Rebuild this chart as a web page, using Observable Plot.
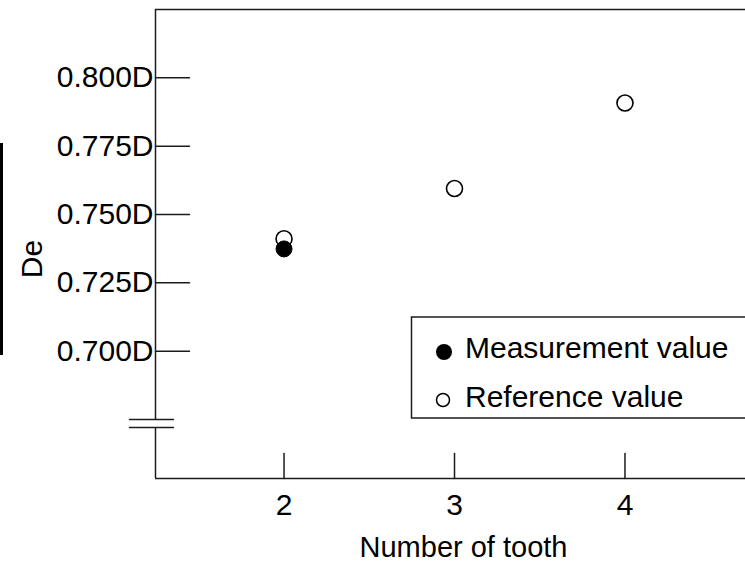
<!DOCTYPE html>
<html>
<head>
<meta charset="utf-8">
<script src="https://cdn.jsdelivr.net/npm/d3@7"></script>
<script src="https://cdn.jsdelivr.net/npm/@observablehq/plot@0.6"></script>
<style>
  html, body { margin: 0; padding: 0; background: #fff; overflow: hidden; }
  #wrap { position: relative; width: 745px; height: 564px; overflow: hidden; }
  #edge { position: absolute; left: 0; top: 143px; width: 3px; height: 212px; background: #000; }
</style>
</head>
<body>
<div id="wrap"><div id="edge"></div></div>
<script>
// Number of teeth on the x axis
const teeth = [2, 3, 4];
// Measured De (only the 2-tooth case was measured)
const measuredTeeth = [2];
const measuredDe = [0.7374];
// Reference De for each tooth count
const referenceTeeth = [2, 3, 4];
const referenceDe = [0.7411, 0.7595, 0.7908];
// Y tick values, labelled as fractions of D
const yTicks = [0.700, 0.725, 0.750, 0.775, 0.800];
// Axis extents and the broken-axis gap
const xDomain = [1.246, 4.707];
const yDomain = [0.6534, 0.825];
const breakLo = 0.6721, breakHi = 0.675;

const measured = measuredTeeth.map((t, i) => ({teeth: t, De: measuredDe[i]}));
const reference = referenceTeeth.map((t, i) => ({teeth: t, De: referenceDe[i]}));

const ink = "#1c1c1c";
const font = "'Liberation Sans', Arial, sans-serif";
const fs = 30;
// a straight segment shape for vector marks
const stick = {draw(context, l) { context.moveTo(0, 0); context.lineTo(0, -l); }};

const chart = Plot.plot({
  width: 745,
  height: 564,
  marginLeft: 155,
  marginRight: 0,
  marginTop: 9,
  marginBottom: 86,
  style: {fontFamily: font, fontSize: fs + "px", color: ink, background: "transparent"},
  x: {domain: xDomain, axis: null},
  y: {domain: yDomain, axis: null},
  marks: [
    // frame: top line, left axis with a break, bottom axis
    Plot.ruleY([yDomain[1]], {stroke: ink, strokeWidth: 1.5}),
    Plot.ruleY([yDomain[0]], {stroke: ink, strokeWidth: 1.5}),
    Plot.ruleX([xDomain[0]], {y1: breakHi, y2: yDomain[1], stroke: ink, strokeWidth: 1.5}),
    Plot.ruleX([xDomain[0]], {y1: yDomain[0], y2: breakLo, stroke: ink, strokeWidth: 1.5}),
    Plot.vector([breakLo, breakHi], {x: xDomain[0], y: d => d, length: 44, rotate: 90, shape: stick, anchor: "middle", dx: -4, stroke: ink, strokeWidth: 1.5}),
    // inward ticks
    Plot.vector(yTicks, {x: xDomain[0], y: d => d, length: 34, rotate: 90, shape: stick, anchor: "start", stroke: ink, strokeWidth: 1.5}),
    Plot.vector(teeth, {x: d => d, y: yDomain[0], length: 25, rotate: 0, shape: stick, anchor: "start", stroke: ink, strokeWidth: 1.5}),
    // tick labels
    Plot.axisY(yTicks, {anchor: "left", tickSize: 0, tickPadding: 2, tickFormat: d => d.toFixed(3) + "D", fontSize: fs, fill: "#000", label: null}),
    Plot.axisX(teeth, {anchor: "bottom", tickSize: 0, tickPadding: 15, tickFormat: d => String(d), fontSize: fs, fill: "#000", label: null}),
    // x axis title
    Plot.text(["Number of tooth"], {frameAnchor: "bottom", dx: 13, dy: 58, lineAnchor: "top", fontSize: 29, fill: "#000"}),
    // data
    Plot.dot(reference, {x: "teeth", y: "De", r: 8, fill: "#fff", stroke: "#000", strokeWidth: 1.6}),
    Plot.dot(measured, {x: "teeth", y: "De", r: 8, fill: "#000", stroke: "#000", strokeWidth: 1})
  ]
});

const wrap = document.getElementById("wrap");
wrap.insertBefore(chart, wrap.firstChild);

const svg = d3.select(chart);

// y axis title
svg.append("text")
  .attr("transform", "translate(31,259) rotate(-90)")
  .attr("text-anchor", "middle").attr("dy", "0.35em")
  .attr("font-family", font).attr("font-size", fs).attr("fill", "#000")
  .text("De");

// legend box
const lg = svg.append("g").attr("font-family", font).attr("font-size", fs).attr("text-anchor", "start");
lg.append("rect").attr("x", 411.5).attr("y", 317).attr("width", 345).attr("height", 101)
  .attr("fill", "#fff").attr("stroke", ink).attr("stroke-width", 1.5);
lg.append("circle").attr("cx", 444).attr("cy", 352).attr("r", 8).attr("fill", "#000");
lg.append("circle").attr("cx", 443).attr("cy", 400).attr("r", 6.5).attr("fill", "#fff")
  .attr("stroke", "#000").attr("stroke-width", 1.5);
lg.append("text").attr("x", 465).attr("y", 358).attr("fill", "#000").text("Measurement value");
lg.append("text").attr("x", 465).attr("y", 407).attr("fill", "#000").text("Reference value");
</script>
</body>
</html>
